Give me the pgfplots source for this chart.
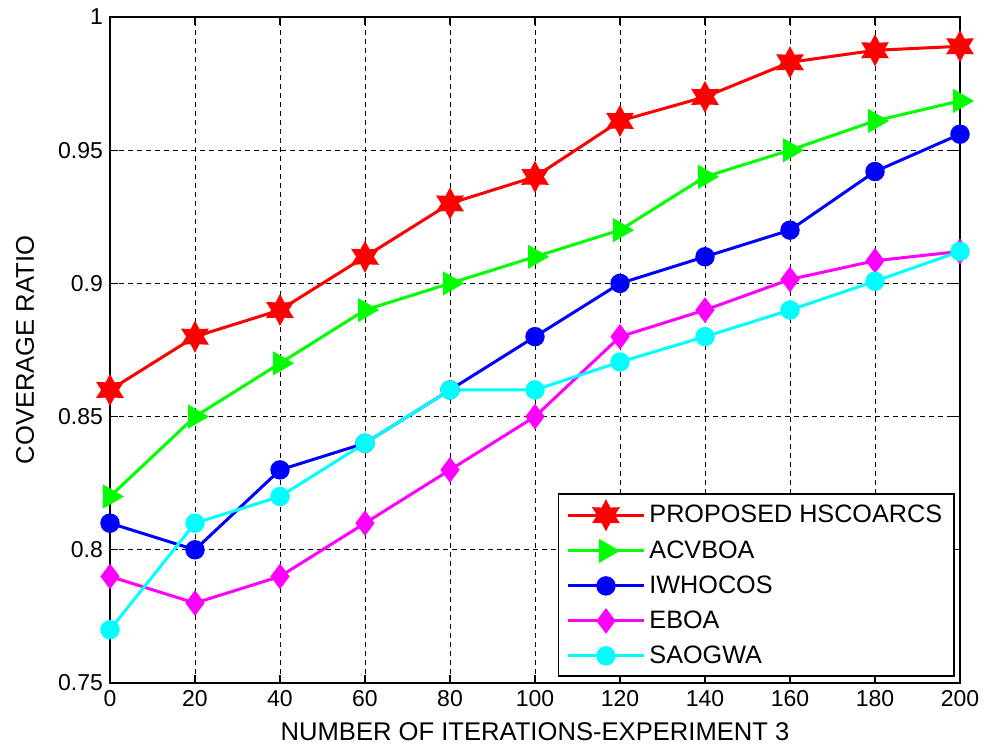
\documentclass[border=0pt]{standalone}
\usepackage{fontspec}
\setmainfont{Liberation Sans}
\usepackage{pgfplots}
\pgfplotsset{compat=1.18}
\usetikzlibrary{plotmarks}
\definecolor{mred}{RGB}{255,0,0}
\definecolor{mgreen}{RGB}{0,255,0}
\definecolor{mblue}{RGB}{0,0,255}
\definecolor{mmag}{RGB}{255,0,255}
\definecolor{mcyan}{RGB}{0,255,255}
\pgfdeclareplotmark{hexagram}{%
  \pgfpathmoveto{\pgfqpointpolar{90}{\pgfplotmarksize}}%
  \pgfpathlineto{\pgfqpointpolar{120}{0.55\pgfplotmarksize}}%
  \pgfpathlineto{\pgfqpointpolar{150}{\pgfplotmarksize}}%
  \pgfpathlineto{\pgfqpointpolar{180}{0.55\pgfplotmarksize}}%
  \pgfpathlineto{\pgfqpointpolar{210}{\pgfplotmarksize}}%
  \pgfpathlineto{\pgfqpointpolar{240}{0.55\pgfplotmarksize}}%
  \pgfpathlineto{\pgfqpointpolar{270}{\pgfplotmarksize}}%
  \pgfpathlineto{\pgfqpointpolar{300}{0.55\pgfplotmarksize}}%
  \pgfpathlineto{\pgfqpointpolar{330}{\pgfplotmarksize}}%
  \pgfpathlineto{\pgfqpointpolar{0}{0.55\pgfplotmarksize}}%
  \pgfpathlineto{\pgfqpointpolar{30}{\pgfplotmarksize}}%
  \pgfpathlineto{\pgfqpointpolar{60}{0.55\pgfplotmarksize}}%
  \pgfpathclose
  \pgfusepathqfillstroke}
\begin{document}
\begin{tikzpicture}
\begin{axis}[
  scale only axis,
  width=425pt, height=333pt,
  xmin=0, xmax=200, ymin=0.75, ymax=1,
  xtick={0,20,...,200},
  ytick={0.75,0.8,0.85,0.9,0.95,1},
  yticklabels={0.75,0.8,0.85,0.9,0.95,1},
  /pgf/number format/assume math mode=true,
  tick label style={font=\fontsize{11.5}{13}\selectfont, black},
  label style={font=\fontsize{12.8}{15}\selectfont},
  tick align=inside,
  major tick length=4pt,
  tick style={black, line width=0.6pt},
  axis line style={black, line width=0.8pt},
  grid=major,
  major grid style={black, line width=0.5pt, dash pattern=on 2.5pt off 2pt},
  xlabel={NUMBER OF ITERATIONS-EXPERIMENT 3},
  ylabel={COVERAGE RATIO},
  xlabel style={at={(axis description cs:0.5,-0.0736)}, anchor=center},
  ylabel style={at={(axis description cs:-0.1,0.5)}, anchor=center},
  legend style={at={(rel axis cs:0.994,0.009)}, anchor=south east,
    draw=black, line width=0.8pt, font=\fontsize{12.6}{14}\selectfont,
    row sep=3.2pt, inner xsep=4pt, inner ysep=3pt, cells={anchor=west}},
  legend image code/.code={\draw[mark repeat=2,mark phase=2] plot coordinates {(0pt,0pt)(19pt,0pt)(38pt,0pt)};},
  every axis plot/.append style={line width=1.5pt},
]
\addplot[color=mred, mark=hexagram, mark size=7.5pt, mark options={solid, fill=mred, line width=0.5pt}]
  coordinates {(0,0.86)(20,0.88)(40,0.89)(60,0.91)(80,0.93)(100,0.94)(120,0.961)(140,0.970)(160,0.983)(180,0.9875)(200,0.989)};
\addlegendentry{PROPOSED HSCOARCS}
\addplot[color=mgreen, mark=triangle*, mark size=6.5pt, mark options={solid, fill=mgreen, rotate=-90, line width=0.5pt}]
  coordinates {(0,0.82)(20,0.85)(40,0.87)(60,0.89)(80,0.90)(100,0.91)(120,0.92)(140,0.94)(160,0.95)(180,0.961)(200,0.9685)};
\addlegendentry{ACVBOA}
\addplot[color=mblue, mark=*, mark size=4.6pt, mark options={solid, fill=mblue, line width=0.5pt}]
  coordinates {(0,0.81)(20,0.80)(40,0.83)(60,0.84)(80,0.86)(100,0.88)(120,0.90)(140,0.91)(160,0.92)(180,0.942)(200,0.956)};
\addlegendentry{IWHOCOS}
\addplot[color=mmag, mark=diamond*, mark size=6pt, mark options={solid, fill=mmag, line width=0.5pt}]
  coordinates {(0,0.79)(20,0.78)(40,0.79)(60,0.81)(80,0.83)(100,0.85)(120,0.88)(140,0.89)(160,0.9015)(180,0.9085)(200,0.912)};
\addlegendentry{EBOA}
\addplot[color=mcyan, mark=*, mark size=4.6pt, mark options={solid, fill=mcyan, line width=0.5pt}]
  coordinates {(0,0.77)(20,0.81)(40,0.82)(60,0.84)(80,0.86)(100,0.86)(120,0.8705)(140,0.88)(160,0.89)(180,0.9008)(200,0.912)};
\addlegendentry{SAOGWA}
\end{axis}
\path (current axis.south west) ++(-55pt,-32.5pt);
\path (current axis.north east) ++(15pt,8.5pt);
\end{tikzpicture}
\end{document}
